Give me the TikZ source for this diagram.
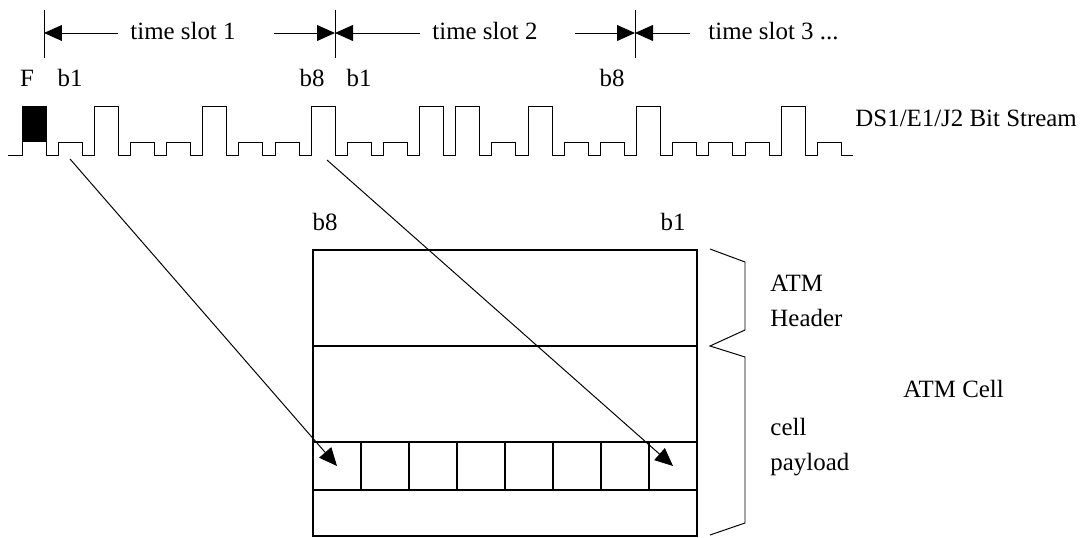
\documentclass[tikz,border=0pt]{standalone}
\usepackage{fontspec}
\setmainfont{Liberation Serif}
\usetikzlibrary{positioning,arrows.meta}

\begin{document}
\begin{tikzpicture}[
  x=0.025cm, y=-0.025cm,
  line width=0.7pt,
  lbl/.style={font=\fontsize{17.7}{24.8}\selectfont, inner sep=0pt},
  slotcell/.style={draw, line width=0.8pt, minimum size=1.2cm, inner sep=0pt, outer sep=0pt},
  >={Triangle[length=12.8pt,width=11.3pt]}
]
  \useasboundingbox (0,0) rectangle (1081,538);

  % Time slot boundaries
  \coordinate (t0) at (44,33);
  \coordinate (t1) at (335,33);
  \coordinate (t2) at (635,33);
  \foreach \t in {t0,t1,t2}
    \draw (\t) ++(0,-23) -- ++(0,48);

  % Time slot labels
  \node[lbl, anchor=base] (slot1) at (183,40) {time slot 1};
  \node[lbl, anchor=base] (slot2) at (485,40) {time slot 2};
  \node[lbl, anchor=base west] (slot3) at (708,40) {time slot 3 ...};

  \coordinate (s1l) at (118,33);
  \coordinate (s1r) at (274,33);
  \coordinate (s2l) at (420,33);
  \coordinate (s2r) at (575,33);
  \coordinate (s3l) at (690,33);
  \draw[->] (s1l) -- (t0);
  \draw[->] (s1r) -- (t1);
  \draw[->] (s2l) -- (t1);
  \draw[->] (s2r) -- (t2);
  \draw[->] (s3l) -- (t2);

  % Bit labels
  \node[lbl, anchor=base] (fbit) at (27,87) {F};
  \node[lbl, anchor=base] (b1a) at (70,87) {b1};
  \node[lbl, anchor=base] (b8a) at (312,87) {b8};
  \node[lbl, anchor=base] (b1b) at (359,87) {b1};
  \node[lbl, anchor=base] (b8b) at (612,87) {b8};

  % The bit stream
  \fill (22,106) rectangle (46,142);
  \draw (8,155) \foreach \b [count=\k from 0] in {1,0,1,0,0,1,0,0,1,0,0,1,1,0,1,0,0,1,0,0,0,1,0}
    { -- ({22+36.15*\k},155) -- ({22+36.15*\k},{106+36*(1-\b)})
      -- ({46+36.15*\k},{106+36*(1-\b)}) -- ({46+36.15*\k},155) } -- (853,155);
  \node[lbl, anchor=base west] (stream) at (855,127) {DS1/E1/J2 Bit Stream};

  % ATM cell
  \draw[line width=0.8pt] (313,250) rectangle (697,536);
  \draw[line width=0.8pt] (313,346) -- (697,346);
  \foreach \i in {1,...,8}
    \node[slotcell] (cell\i) at ({289+48*\i},466) {};
  \node[lbl, anchor=base] (colb8) at (325,231) {b8};
  \node[lbl, anchor=base] (colb1) at (673,231) {b1};

  % Bits into the cell
  \coordinate (b1src) at (70,159);
  \coordinate (b8src) at (327,160);
  \draw[->] (b1src) -- (cell1.center);
  \draw[->] (b8src) -- (cell8.center);

  % Braces
  \draw (710,249) -- (745,262) -- (745,330) -- (710,346) -- (745,357) -- (745,523) -- (710,535);
  \node[lbl, anchor=west, align=left] (hdr) at (770,301) {ATM\\Header};
  \node[lbl, anchor=west, align=left] (pay) at (770,447) {cell\\payload};
  \node[lbl, anchor=base west] (atmcell) at (903,398) {ATM Cell};
\end{tikzpicture}
\end{document}
